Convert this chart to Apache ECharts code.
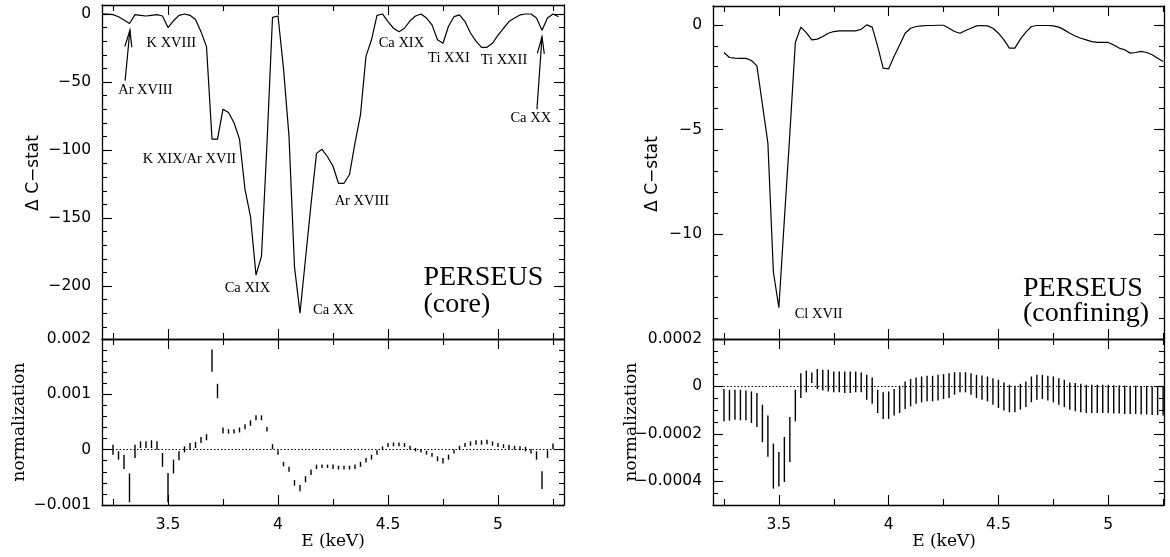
<!DOCTYPE html>
<html><head><meta charset="utf-8">
<script src="https://cdn.jsdelivr.net/npm/echarts@6/dist/echarts.min.js"></script>
<style>html,body{margin:0;padding:0;background:#fff}#c{width:1170px;height:557px}</style>
</head><body><div id="c"></div>
<script>
// ---------------- data ----------------
const coreE = [3.2,3.225,3.25,3.275,3.3,3.325,3.35,3.375,3.4,3.425,3.45,3.475,3.5,3.525,3.55,3.575,3.6,3.625,3.65,3.675,3.7,3.725,3.75,3.775,3.8,3.825,3.85,3.875,3.9,3.925,3.95,3.975,4.0,4.025,4.05,4.075,4.1,4.125,4.15,4.175,4.2,4.225,4.25,4.275,4.3,4.325,4.35,4.375,4.4,4.425,4.45,4.475,4.5,4.525,4.55,4.575,4.6,4.625,4.65,4.675,4.7,4.725,4.75,4.775,4.8,4.825,4.85,4.875,4.9,4.925,4.95,4.975,5.0,5.025,5.05,5.075,5.1,5.125,5.15,5.175,5.2,5.225,5.25,5.275];
const coreDC = [0,0,-0.5,-2,-4.5,-7,-0.5,-1,-1.5,-1,-0.5,-1.5,-10,-5,-1,0,-1,-4,-13,-24,-92,-92,-70,-72.5,-80,-92,-129,-149,-192,-178,-95,-2.5,-1.5,-40,-90,-186,-220,-180,-140,-102.5,-99.5,-105,-112,-124.5,-124.5,-118,-95,-74,-31,-19,-1,0,-5.6,-10.5,-13,-10.5,-5,-1.5,0,-3,-8,-19,-21.5,-9,-2,-0.7,-5.6,-14,-20,-24.5,-24.5,-21.5,-15.5,-10.5,-5.6,-3,-0.7,0,0,-3,-12,-3,0,-2];

const binE = [3.25,3.275,3.3,3.325,3.35,3.375,3.4,3.425,3.45,3.475,3.5,3.525,3.55,3.575,3.6,3.625,3.65,3.675,3.7,3.725,3.75,3.775,3.8,3.825,3.85,3.875,3.9,3.925,3.95,3.975,4.0,4.025,4.05,4.075,4.1,4.125,4.15,4.175,4.2,4.225,4.25,4.275,4.3,4.325,4.35,4.375,4.4,4.425,4.45,4.475,4.5,4.525,4.55,4.575,4.6,4.625,4.65,4.675,4.7,4.725,4.75,4.775,4.8,4.825,4.85,4.875,4.9,4.925,4.95,4.975,5.0,5.025,5.05,5.075,5.1,5.125,5.15,5.175,5.2,5.225,5.25];

const coreNormLo = [-0.09e-3,-0.18e-3,-0.35e-3,-0.95e-3,-0.15e-3,0.03e-3,0.03e-3,0.03e-3,0,-0.31e-3,-0.95e-3,-0.43e-3,-0.19e-3,-0.05e-3,0,0.03e-3,0.12e-3,0.17e-3,1.41e-3,0.93e-3,0.29e-3,0.29e-3,0.29e-3,0.31e-3,0.37e-3,0.43e-3,0.53e-3,0.53e-3,0.33e-3,0.01e-3,-0.09e-3,-0.30e-3,-0.40e-3,-0.65e-3,-0.75e-3,-0.59e-3,-0.46e-3,-0.35e-3,-0.33e-3,-0.33e-3,-0.35e-3,-0.36e-3,-0.36e-3,-0.36e-3,-0.35e-3,-0.31e-3,-0.23e-3,-0.18e-3,-0.09e-3,-0.01e-3,0.05e-3,0.06e-3,0.06e-3,0.05e-3,0,-0.03e-3,-0.05e-3,-0.09e-3,-0.13e-3,-0.21e-3,-0.25e-3,-0.18e-3,-0.07e-3,0,0.05e-3,0.07e-3,0.09e-3,0.09e-3,0.10e-3,0.07e-3,0.05e-3,0.03e-3,0.01e-3,0,-0.01e-3,-0.03e-3,-0.07e-3,-0.18e-3,-0.71e-3,-0.15e-3,0.01e-3];
const coreNormHi = [0.09e-3,-0.03e-3,-0.09e-3,-0.43e-3,0.09e-3,0.15e-3,0.15e-3,0.17e-3,0.15e-3,-0.06e-3,-0.42e-3,-0.18e-3,-0.03e-3,0.06e-3,0.12e-3,0.14e-3,0.23e-3,0.28e-3,1.81e-3,1.19e-3,0.40e-3,0.37e-3,0.37e-3,0.40e-3,0.46e-3,0.53e-3,0.62e-3,0.62e-3,0.41e-3,0.10e-3,-0.01e-3,-0.22e-3,-0.31e-3,-0.55e-3,-0.64e-3,-0.48e-3,-0.36e-3,-0.27e-3,-0.27e-3,-0.27e-3,-0.27e-3,-0.29e-3,-0.29e-3,-0.29e-3,-0.27e-3,-0.22e-3,-0.15e-3,-0.09e-3,-0.01e-3,0.06e-3,0.12e-3,0.13e-3,0.13e-3,0.12e-3,0.07e-3,0.03e-3,0.01e-3,-0.02e-3,-0.06e-3,-0.12e-3,-0.15e-3,-0.09e-3,0,0.07e-3,0.12e-3,0.15e-3,0.17e-3,0.17e-3,0.18e-3,0.15e-3,0.12e-3,0.10e-3,0.09e-3,0.07e-3,0.06e-3,0.05e-3,0.01e-3,-0.03e-3,-0.39e-3,-0.01e-3,0.11e-3];

const confDC = [-1.32,-1.56,-1.59,-1.6,-1.6,-1.7,-1.96,-3.8,-5.65,-11.8,-13.5,-9.3,-5.2,-0.84,-0.11,-0.37,-0.72,-0.68,-0.56,-0.4,-0.32,-0.29,-0.29,-0.29,-0.29,-0.21,0,-0.11,-1.03,-2.07,-2.1,-1.5,-0.96,-0.4,-0.16,-0.08,-0.05,-0.03,-0.03,-0.02,-0.02,-0.16,-0.32,-0.4,-0.27,-0.16,-0.05,-0.03,-0.05,-0.16,-0.4,-0.72,-1.11,-1.11,-0.68,-0.35,-0.08,-0.03,-0.03,-0.03,-0.05,-0.11,-0.24,-0.4,-0.53,-0.64,-0.72,-0.8,-0.84,-0.84,-0.84,-0.96,-1.11,-1.19,-1.35,-1.32,-1.27,-1.32,-1.43,-1.59,-1.75];

const confNormLo = [-1.47e-4,-1.44e-4,-1.40e-4,-1.43e-4,-1.43e-4,-1.54e-4,-1.71e-4,-2.35e-4,-2.97e-4,-4.31e-4,-4.22e-4,-4.03e-4,-3.19e-4,-1.47e-4,-0.49e-4,-0.25e-4,0.14e-4,-0.11e-4,-0.17e-4,-0.21e-4,-0.25e-4,-0.25e-4,-0.28e-4,-0.28e-4,-0.25e-4,-0.25e-4,-0.56e-4,-0.73e-4,-1.12e-4,-1.37e-4,-1.37e-4,-1.23e-4,-1.12e-4,-0.95e-4,-0.84e-4,-0.73e-4,-0.67e-4,-0.63e-4,-0.63e-4,-0.59e-4,-0.53e-4,-0.49e-4,-0.35e-4,-0.25e-4,-0.25e-4,-0.35e-4,-0.49e-4,-0.56e-4,-0.63e-4,-0.77e-4,-0.91e-4,-1.01e-4,-1.09e-4,-1.09e-4,-0.98e-4,-0.87e-4,-0.67e-4,-0.56e-4,-0.53e-4,-0.59e-4,-0.67e-4,-0.77e-4,-0.87e-4,-0.98e-4,-1.05e-4,-1.09e-4,-1.12e-4,-1.12e-4,-1.12e-4,-1.12e-4,-1.12e-4,-1.14e-4,-1.14e-4,-1.16e-4,-1.16e-4,-1.16e-4,-1.18e-4,-1.18e-4,-1.20e-4,-1.21e-4,-1.23e-4];
const confNormHi = [-0.11e-4,-0.14e-4,-0.14e-4,-0.14e-4,-0.17e-4,-0.21e-4,-0.28e-4,-0.77e-4,-1.23e-4,-2.41e-4,-2.77e-4,-2.13e-4,-1.29e-4,-0.14e-4,0.56e-4,0.67e-4,0.59e-4,0.73e-4,0.70e-4,0.70e-4,0.63e-4,0.63e-4,0.63e-4,0.63e-4,0.63e-4,0.59e-4,0.49e-4,0.38e-4,-0.14e-4,-0.25e-4,-0.21e-4,-0.11e-4,0.03e-4,0.21e-4,0.31e-4,0.38e-4,0.42e-4,0.45e-4,0.45e-4,0.49e-4,0.52e-4,0.56e-4,0.60e-4,0.60e-4,0.60e-4,0.56e-4,0.49e-4,0.46e-4,0.42e-4,0.35e-4,0.28e-4,0.17e-4,0.07e-4,0.03e-4,0.11e-4,0.21e-4,0.42e-4,0.49e-4,0.49e-4,0.45e-4,0.42e-4,0.35e-4,0.28e-4,0.17e-4,0.14e-4,0.11e-4,0.07e-4,0.07e-4,0.07e-4,0.07e-4,0.07e-4,0.05e-4,0.05e-4,0.04e-4,0.03e-4,0.03e-4,0.02e-4,0.02e-4,0.01e-4,0,0];

// tick labels
const xMajor = [3.5, 4, 4.5, 5];
const xMinor = [3.25, 3.75, 4.25, 4.75, 5.25];
const coreDCTicks = [-200, -150, -100, -50, 0];
const coreNormTicks = [-0.001, 0, 0.001, 0.002];
const confDCTicks = [-10, -5, 0];
const confNormTicks = [-0.0004, -0.0002, 0, 0.0002];

// annotations (text, E, value)
const coreNoteText = ['K XVIII','Ar XVIII','K XIX/Ar XVII','Ca XIX','Ca XX','Ar XVIII','Ca XIX','Ti XXI','Ti XXII','Ca XX'];
const coreNoteE    = [3.515, 3.397, 3.597, 3.861, 4.252, 4.381, 4.561, 4.777, 5.027, 5.149];
const coreNoteV    = [-21.7, -56.3, -106.6, -201.8, -218, -137.9, -21.7, -32.4, -34.2, -76.5];
const coreArrows   = [[3.305, -49, 3.327, -11.8], [5.177, -70, 5.200, -16.7]];
const confNoteText = ['Cl XVII'];
const confNoteE    = [3.681];
const confNoteV    = [-13.83];

// ---------------- helpers ----------------
function range(a, b, s){ const r=[]; for(let v=a; v<=b+s/1000; v+=s) r.push(+v.toFixed(6)); return r; }
const fmt = v => (v < 0 ? '\u2212' + String(+(-v).toFixed(6)) : String(+v.toFixed(6)));
const tickFont = {color:'#000', fontFamily:'DejaVu Sans', fontSize:15.5};
const LW = 1.3;

function axesFor(dim, g, min, max, major, minor, showLabels, majorLen, minorLen, margin){
  const positions = dim === 'x' ? ['bottom','top'] : ['left','right'];
  const out = [];
  positions.forEach((pos, pi) => {
    out.push({type:'value', gridIndex:g, min, max, position:pos,
      splitLine:{show:false},
      axisLine:{show:true, onZero:false, lineStyle:{color:'#000', width:LW}},
      axisTick:{show:true, inside:true, length:majorLen, customValues:major, lineStyle:{color:'#000', width:1.1}},
      axisLabel:(showLabels && pi===0) ? Object.assign({show:true, customValues:major, formatter:fmt, margin}, tickFont) : {show:false}
    });
    out.push({type:'value', gridIndex:g, min, max, position:pos,
      splitLine:{show:false},
      axisLine:{show:false, onZero:false},
      axisTick:{show:true, inside:true, length:minorLen, customValues:minor, lineStyle:{color:'#000', width:1.1}},
      axisLabel:{show:false}
    });
  });
  return out;
}

const X0 = 3.2, X1core = 5.3, X1conf = 5.254;
const xAxis = [].concat(
  axesFor('x', 0, X0, X1core, xMajor, xMinor, false, 10, 6, 12),
  axesFor('x', 1, X0, X1core, xMajor, xMinor, true, 10, 6, 12),
  axesFor('x', 2, X0, X1conf, xMajor, xMinor, false, 10, 6, 12),
  axesFor('x', 3, X0, X1conf, xMajor, xMinor, true, 10, 6, 12)
);
const yAxis = [].concat(
  axesFor('y', 0, -239, 6.6, coreDCTicks, range(-230, 0, 10), true, 10, 5, 11),
  axesFor('y', 1, -0.001, 0.002, coreNormTicks, range(-0.001, 0.002, 0.0002), true, 10, 5, 11),
  axesFor('y', 2, -15, 0.9, confDCTicks, range(-15, 0, 1), true, 10, 5, 11),
  axesFor('y', 3, -0.0005, 0.0002, confNormTicks, range(-0.0005, 0.0002, 0.00005), true, 10, 5, 11)
);

function errRender(params, api){
  const a = api.coord([api.value(0), api.value(1)]);
  const b = api.coord([api.value(0), api.value(2)]);
  return {type:'line', shape:{x1:a[0], y1:a[1], x2:b[0], y2:b[1]}, style:{stroke:'#000', lineWidth:1.4}};
}
function arrowRender(params, api){
  const t = api.coord([api.value(0), api.value(1)]);
  const h = api.coord([api.value(2), api.value(3)]);
  const ang = Math.atan2(h[1]-t[1], h[0]-t[0]);
  const L = 17, W = 3.5;
  const bx = h[0]-L*Math.cos(ang), by = h[1]-L*Math.sin(ang);
  const px = -Math.sin(ang)*W, py = Math.cos(ang)*W;
  return {type:'group', children:[
    {type:'line', shape:{x1:t[0], y1:t[1], x2:h[0], y2:h[1]}, style:{stroke:'#000', lineWidth:1.2}},
    {type:'polyline', shape:{points:[[bx+px, by+py], [h[0], h[1]], [bx-px, by-py]]}, style:{stroke:'#000', fill:null, lineWidth:1.2}}
  ]};
}
const zeroLine = {silent:true, symbol:'none', label:{show:false},
  lineStyle:{type:[1.5,2], color:'#000', width:1}, data:[{yAxis:0}], animation:false};

function notes(g, texts, es, vs, font){
  return {type:'scatter', xAxisIndex:4*g, yAxisIndex:4*g, symbolSize:1, itemStyle:{color:'rgba(255,255,255,0)'},
    silent:true, animation:false,
    data: texts.map((t,i) => ({value:[es[i], vs[i]], label:{formatter:t}})),
    label:Object.assign({show:true, position:'inside', color:'#000', opacity:1, textBorderWidth:0, textBorderColor:'transparent',
      fontFamily:'Liberation Serif'}, font)};
}

const option = {
  animation:false,
  backgroundColor:'#fff',
  grid:[
    {left:102, top:5, width:462, height:334},
    {left:102, top:339, width:462, height:166},
    {left:713, top:6, width:451, height:333},
    {left:713, top:339, width:451, height:166}
  ],
  xAxis, yAxis,
  series:[
    {type:'line', xAxisIndex:0, yAxisIndex:0, showSymbol:false, symbol:'none',
     lineStyle:{color:'#000', width:1.2}, data:coreE.map((e,i)=>[e, coreDC[i]])},
    {type:'custom', xAxisIndex:4, yAxisIndex:4, renderItem:errRender, encode:{x:0, y:[1,2]},
     data:binE.map((e,i)=>[e, coreNormLo[i], coreNormHi[i]]), markLine:zeroLine},
    {type:'line', xAxisIndex:8, yAxisIndex:8, showSymbol:false, symbol:'none',
     lineStyle:{color:'#000', width:1.2}, data:binE.map((e,i)=>[e, confDC[i]])},
    {type:'custom', xAxisIndex:12, yAxisIndex:12, renderItem:errRender, encode:{x:0, y:[1,2]},
     data:binE.map((e,i)=>[e, confNormLo[i], confNormHi[i]]), markLine:zeroLine},
    {type:'custom', xAxisIndex:0, yAxisIndex:0, renderItem:arrowRender, clip:false, data:coreArrows},
    notes(0, coreNoteText, coreNoteE, coreNoteV, {fontSize:14.5}),
    notes(2, confNoteText, confNoteE, confNoteV, {fontSize:14.5}),
    notes(0, ['PERSEUS','(core)'], [4.661, 4.661], [-194.1, -213.6], {fontSize:28, align:'left'}),
    notes(2, ['PERSEUS','(confining)'], [4.612, 4.612], [-12.61, -13.78], {fontSize:28, align:'left'})
  ],
  graphic:[
    {type:'text', x:34, y:173, rotation:Math.PI/2, style:{text:'\u0394 C\u2212stat', font:'17px "DejaVu Sans"', fill:'#000', align:'center', verticalAlign:'middle'}},
    {type:'text', x:653, y:174, rotation:Math.PI/2, style:{text:'\u0394 C\u2212stat', font:'17px "DejaVu Sans"', fill:'#000', align:'center', verticalAlign:'middle'}},
    {type:'text', x:19.5, y:422, rotation:Math.PI/2, style:{text:'normalization', font:'17px "DejaVu Serif"', fill:'#000', align:'center', verticalAlign:'middle'}},
    {type:'text', x:631.5, y:422, rotation:Math.PI/2, style:{text:'normalization', font:'17px "DejaVu Serif"', fill:'#000', align:'center', verticalAlign:'middle'}},
    {type:'text', x:333, y:542, style:{text:'E (keV)', font:'17px "DejaVu Serif"', fill:'#000', align:'center', verticalAlign:'middle'}},
    {type:'text', x:944, y:542, style:{text:'E (keV)', font:'17px "DejaVu Serif"', fill:'#000', align:'center', verticalAlign:'middle'}}
  ]
};
const chart = echarts.init(document.getElementById('c'), null, {renderer:'canvas'});
chart.setOption(option);
</script>
</body></html>
